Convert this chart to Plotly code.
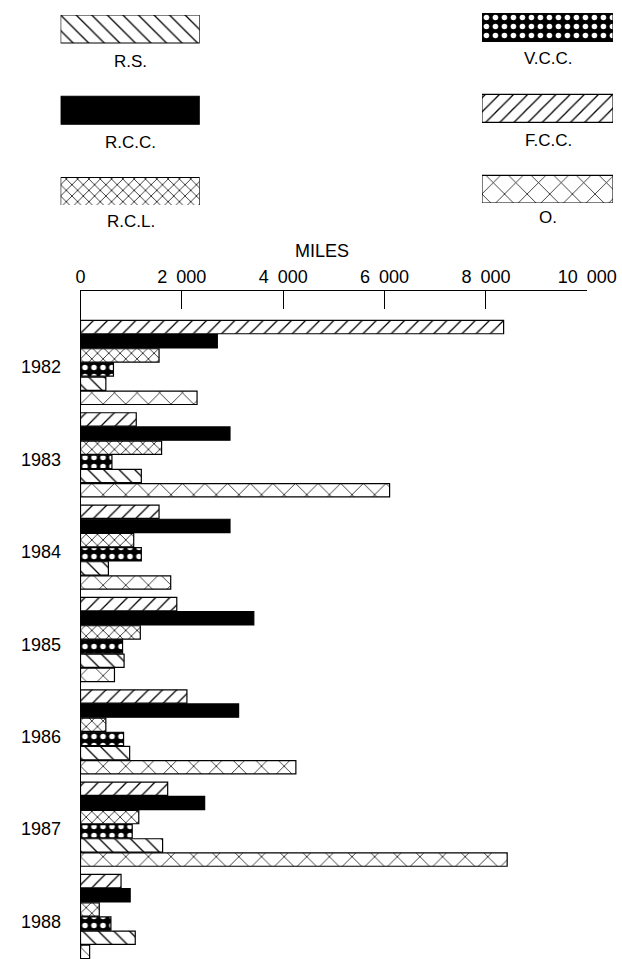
import plotly.graph_objects as go

W, H = 622, 959
FIG_W = 653

years = ["1982", "1983", "1984", "1985", "1986", "1987", "1988"]
series_names = ["F.C.C.", "R.C.C.", "R.C.L.", "V.C.C.", "R.S.", "O."]
fcc = [8350, 1100, 1550, 1900, 2100, 1720, 800]
rcc = [2700, 2950, 2950, 3420, 3120, 2450, 980]
rcl = [1550, 1600, 1050, 1180, 500, 1150, 370]
vcc = [650, 620, 1200, 830, 850, 1020, 600]
rs = [500, 1200, 550, 860, 970, 1620, 1080]
o_ = [2300, 6100, 1780, 670, 4250, 8420, 180]
values = [fcc, rcc, rcl, vcc, rs, o_]

tick_vals = [0, 2000, 4000, 6000, 8000, 10000]
tick_text = ["0", "2\u2002000", "4\u2002000", "6\u2002000", "8\u2002000", "10\u2002000"]

legend_left = ["R.S.", "R.C.C.", "R.C.L."]
legend_right = ["V.C.C.", "F.C.C.", "O."]

FONT = "Liberation Sans, Arial, sans-serif"

styles = {
    "F.C.C.": dict(color="white", pattern=dict(shape="/", fgcolor="black", bgcolor="white", size=10, solidity=0.13, fillmode="replace")),
    "R.C.C.": dict(color="black", pattern=dict(shape="")),
    "R.C.L.": dict(color="white", pattern=dict(shape="x", fgcolor="black", bgcolor="white", size=8, solidity=0.18, fillmode="replace")),
    "V.C.C.": dict(color="black", pattern=dict(shape=".", fgcolor="white", bgcolor="black", size=9, solidity=0.3, fillmode="replace")),
    "R.S.": dict(color="white", pattern=dict(shape="\\", fgcolor="black", bgcolor="white", size=11, solidity=0.12, fillmode="replace")),
    "O.": dict(color="white", pattern=dict(shape="x", fgcolor="black", bgcolor="white", size=16, solidity=0.09, fillmode="replace")),
}


def px(x):
    return x / W


def py(y):
    return 1 - y / H


fig = go.Figure()

for name, vals in zip(series_names, values):
    st = styles[name]
    fig.add_trace(go.Bar(
        y=years, x=vals, orientation="h", name=name,
        marker=dict(color=st["color"], pattern=st["pattern"], line=dict(color="black", width=1.2)),
        showlegend=False, hoverinfo="x+name",
    ))

# legend swatches as bars on small axes
for names, xa, ya in [(legend_left, "x2", "y2"), (legend_right, "x3", "y3")]:
    for name in names:
        st = styles[name]
        fig.add_trace(go.Bar(
            y=[name], x=[1], orientation="h", xaxis=xa, yaxis=ya,
            width=0.345, offset=-0.1725,
            marker=dict(color=st["color"], pattern=st["pattern"], line=dict(color="black", width=1.2)),
            showlegend=False, hoverinfo="skip",
        ))

annotations = []
for i, yv in enumerate(years):
    annotations.append(dict(x=px(58), xref="paper", xanchor="right", y=i, yref="y",
                            yanchor="middle", yshift=-5, text=yv, showarrow=False,
                            font=dict(family=FONT, size=18, color="black")))
annotations.append(dict(x=px(319), y=py(251), xref="paper", yref="paper", text="MILES",
                        xanchor="center", yanchor="middle",
                        showarrow=False, font=dict(family=FONT, size=18, color="black")))
for name, cx, cy in [("R.S.", 126, 61), ("R.C.C.", 126, 142), ("R.C.L.", 127, 222),
                     ("V.C.C.", 547, 58), ("F.C.C.", 547, 140), ("O.", 547, 218)]:
    annotations.append(dict(x=px(cx), y=py(cy), xref="paper", yref="paper", text=name,
                            xanchor="center", yanchor="middle",
                            showarrow=False, font=dict(family=FONT, size=17, color="black")))

fig.update_layout(
    width=FIG_W, height=H, autosize=False,
    margin=dict(l=0, r=0, t=0, b=0),
    paper_bgcolor="white", plot_bgcolor="white",
    barmode="group", bargap=0.08, bargroupgap=0.06,
    font=dict(family=FONT, color="black"),
    xaxis=dict(domain=[px(76), px(586)], range=[0, 10000], side="top",
               tickvals=tick_vals, ticktext=tick_text, ticks="inside", ticklen=18,
               tickcolor="black", tickwidth=1, showline=True, linecolor="black",
               linewidth=1, showgrid=False, zeroline=False,
               tickfont=dict(family=FONT, size=18, color="black"), anchor="y"),
    yaxis=dict(domain=[0, py(291)], type="category", categoryorder="array",
               categoryarray=years, range=[6.46, -0.774], showticklabels=False,
               ticks="", showline=True, linecolor="black", linewidth=1,
               showgrid=False, zeroline=False, anchor="x"),
    xaxis2=dict(domain=[px(56), px(196)], range=[0, 1], visible=False, anchor="y2"),
    yaxis2=dict(domain=[py(205), py(15)], type="category", categoryorder="array",
                categoryarray=legend_left, range=[2.166, -0.172], visible=False, anchor="x2"),
    xaxis3=dict(domain=[px(480), px(612)], range=[0, 1], visible=False, anchor="y3"),
    yaxis3=dict(domain=[py(203), py(13)], type="category", categoryorder="array",
                categoryarray=legend_right, range=[2.17, -0.179], visible=False, anchor="x3"),
    annotations=annotations,
)

post = (
    "document.documentElement.style.margin='0';"
    "document.body.style.margin='0';"
)

fig.write_html(
    "out.html",
    config={"responsive": False, "displayModeBar": False},
    post_script=post,
)
